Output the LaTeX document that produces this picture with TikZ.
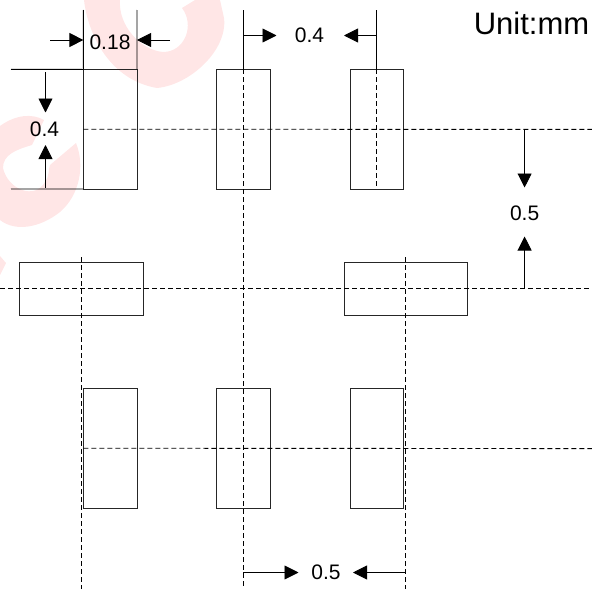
\documentclass[tikz,border=0pt]{standalone}
\usepackage{fontspec}
\setmainfont{Liberation Sans}
\usetikzlibrary{arrows.meta}
\definecolor{markpink}{HTML}{FFE6E6}

\begin{document}
\begin{tikzpicture}[
  x=1pt, y=-1pt,
  tallpad/.style={rectangle, draw=black!85, line width=.9pt, minimum width=53.5pt, minimum height=119.5pt, inner sep=0pt, outer sep=0pt},
  widepad/.style={rectangle, draw=black!85, line width=.9pt, minimum width=123.5pt, minimum height=52.5pt, inner sep=0pt, outer sep=0pt},
  dimlabel/.style={inner sep=0pt, font=\fontsize{21}{25}\selectfont},
  solidline/.style={line width=.9pt},
  centerline/.style={line width=.9pt, dash pattern=on 5pt off 3pt},
  dimarrow/.style={-{Triangle[length=14pt,width=14pt]}, line width=.9pt}
]
\useasboundingbox (0,0) rectangle (592,589);

% Pale marks behind the drawing
\fill[markpink] (84,0) .. controls (88,35) and (110,80) .. (157,88)
  .. controls (190,85) and (228,50) .. (224,18) -- (220,0) -- (195,0) -- (182,8)
  .. controls (195,25) and (185,52) .. (163,52) .. controls (140,50) and (118,25) .. (120,0) -- cycle;
\fill[markpink] (0,126) .. controls (15,115) and (32,113) .. (44,120) -- (32,145)
  .. controls (15,150) and (3,155) .. (3,168) .. controls (8,190) and (35,200) .. (45,182)
  .. controls (50,175) and (48,170) .. (50,165) -- (76,143)
  .. controls (85,165) and (80,195) .. (60,212) .. controls (40,228) and (15,232) .. (0,220) -- cycle;
\fill[markpink] (0,256) -- (6,263) -- (0,275) -- cycle;

% Pads
\node[tallpad] (pad1) at (110.2, 129.2) {};
\node[tallpad] (pad2) at (243.2, 129.2) {};
\node[tallpad] (pad3) at (376.7, 129.2) {};
\node[widepad] (pad4) at (81.5, 288.7) {};
\node[widepad] (pad5) at (406, 288.7) {};
\node[tallpad] (pad6) at (110.2, 448.2) {};
\node[tallpad] (pad7) at (243.2, 448.2) {};
\node[tallpad] (pad8) at (377, 448.2) {};

% Free ends of the lines
\coordinate (topa) at (83.4, 10);
\coordinate (topb) at (137, 10);
\coordinate (topc) at (243.2, 10);
\coordinate (topd) at (376.7, 10);
\coordinate (lefta) at (11, 69.4);
\coordinate (leftb) at (11, 189);
\coordinate (row1end) at (592, 129.4);
\coordinate (row2start) at (0, 288.3);
\coordinate (row2end) at (592, 288.3);
\coordinate (row3end) at (592, 448.6);
\coordinate (col1start) at (81.6, 257);
\coordinate (col1end) at (81.6, 589);
\coordinate (col2end) at (243.2, 589);
\coordinate (col4start) at (405.7, 257);
\coordinate (col4end) at (405.7, 589);

% Extension lines
\draw[solidline] (topa) -- (pad1.north west);
\draw[solidline] (topb) -- (pad1.north east);
\draw[solidline] (topc) -- (pad2.north);
\draw[solidline] (topd) -- (pad3.north);
\draw[solidline] (lefta) -- (pad1.north west);
\draw[solidline] (leftb) -- (pad1.south west);

% Center lines
\draw[centerline] (pad1.west) -- (row1end);
\draw[centerline] (row2start) -- (row2end);
\draw[centerline] (pad6.west) -- (row3end);
\draw[centerline] (col1start) -- (col1end);
\draw[centerline] (pad2.north) -- (col2end);
\draw[centerline] (pad3.north) -- (pad3.south);
\draw[centerline] (col4start) -- (col4end);

% Width 0.18
\coordinate (wa) at (50, 40);
\coordinate (wb) at (83.4, 40);
\coordinate (wc) at (170, 40);
\coordinate (wd) at (137, 40);
\draw[dimarrow] (wa) -- (wb);
\draw[dimarrow] (wc) -- (wd);
\node[dimlabel] (label18) at (110, 42) {0.18};

% Height 0.4
\coordinate (ha) at (45.5, 72);
\coordinate (hb) at (45.5, 112.5);
\coordinate (hc) at (45.5, 188);
\coordinate (hd) at (45.5, 145);
\draw[dimarrow] (ha) -- (hb);
\draw[dimarrow] (hc) -- (hd);
\node[dimlabel] (labelh) at (44.5, 129) {0.4};

% Pitch 0.4
\coordinate (pa) at (243.2, 35.5);
\coordinate (pb) at (276.5, 35.5);
\coordinate (pc) at (376.7, 35.5);
\coordinate (pd) at (344, 35.5);
\draw[dimarrow] (pa) -- (pb);
\draw[dimarrow] (pc) -- (pd);
\node[dimlabel] (labelp) at (309.5, 35.5) {0.4};

% Row pitch 0.5
\coordinate (ra) at (524.6, 129.4);
\coordinate (rb) at (524.6, 187.5);
\coordinate (rc) at (524.6, 288.3);
\coordinate (rd) at (524.6, 236.5);
\draw[dimarrow] (ra) -- (rb);
\draw[dimarrow] (rc) -- (rd);
\node[dimlabel] (labelr) at (524.6, 213) {0.5};

% Column pitch 0.5
\coordinate (ca) at (243.2, 572.5);
\coordinate (cb) at (298.5, 572.5);
\coordinate (cc) at (405.7, 572.5);
\coordinate (cd) at (353, 572.5);
\draw[dimarrow] (ca) -- (cb);
\draw[dimarrow] (cc) -- (cd);
\node[dimlabel] (labelc) at (326, 572.5) {0.5};

% Unit
\node[inner sep=0pt, font=\fontsize{31}{37}\selectfont] (unit) at (531.5, 23) {Unit:mm};

\end{tikzpicture}
\end{document}
